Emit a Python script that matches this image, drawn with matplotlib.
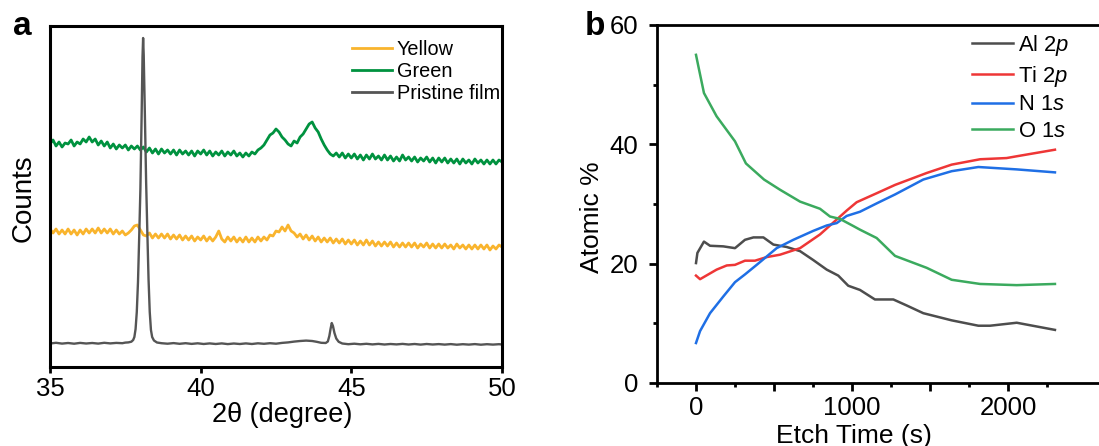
import matplotlib
matplotlib.use('Agg')
import matplotlib.pyplot as plt
from matplotlib.ticker import MultipleLocator, FixedLocator, FuncFormatter

plt.rcParams['font.family'] = ['Liberation Sans', 'DejaVu Sans']
plt.rcParams['mathtext.fontset'] = 'custom'
plt.rcParams['mathtext.rm'] = 'Liberation Sans'
plt.rcParams['mathtext.it'] = 'Liberation Sans:italic'

# ---------------- Panel a data (XRD, arbitrary counts) ----------------
two_theta_step = [round(35.0 + 0.1 * i, 1) for i in range(151)]

green_counts = [
    223, 227, 221, 225, 220, 224, 223, 227, 221, 225,
    223, 228, 225, 230, 225, 228, 222, 226, 221, 225,
    219, 223, 218, 222, 219, 222, 217, 221, 218, 221,
    217, 220, 215, 219, 214, 218, 213, 218, 214, 217,
    213, 217, 212, 217, 213, 216, 212, 216, 211, 216,
    213, 217, 212, 216, 211, 215, 212, 216, 211, 215,
    212, 216, 211, 214, 210, 214, 211, 215, 213, 217,
    219, 222, 227, 232, 234, 238, 235, 230, 227, 223,
    221, 226, 224, 230, 233, 238, 243, 245, 239, 235,
    228, 222, 217, 213, 211, 214, 210, 214, 209, 213,
    209, 213, 208, 212, 207, 212, 208, 213, 208, 211,
    207, 212, 207, 211, 206, 210, 206, 212, 207, 210,
    206, 210, 205, 209, 206, 210, 205, 209, 204, 209,
    205, 209, 204, 208, 204, 208, 203, 208, 204, 207,
    203, 208, 204, 207, 203, 207, 203, 207, 203, 207,
    205,
]

yellow_counts = [
    138, 134, 138, 133, 137, 133, 138, 133, 137, 132,
    137, 133, 138, 134, 138, 134, 139, 134, 138, 134,
    138, 133, 137, 133, 136, 132, 134, 137, 141, 142,
    137, 132, 131, 134, 129, 133, 129, 133, 129, 133,
    128, 132, 128, 132, 127, 131, 127, 131, 126, 130,
    127, 131, 126, 130, 126, 130, 136, 128, 125, 130,
    126, 130, 125, 129, 125, 130, 125, 129, 125, 130,
    126, 130, 127, 132, 131, 136, 135, 140, 136, 142,
    136, 134, 130, 133, 128, 132, 127, 131, 126, 130,
    125, 129, 125, 129, 124, 128, 124, 128, 123, 127,
    123, 127, 122, 126, 122, 127, 122, 126, 121, 125,
    121, 125, 121, 125, 120, 124, 120, 124, 120, 124,
    120, 124, 119, 123, 120, 124, 119, 123, 119, 123,
    119, 123, 119, 122, 118, 123, 119, 122, 118, 122,
    118, 122, 118, 122, 118, 122, 117, 121, 118, 122,
    120,
]

pristine_two_theta = [
    35.0, 35.2, 35.4, 35.6, 35.8, 36.0, 36.2, 36.4, 36.6, 36.8,
    37.0, 37.2, 37.4, 37.5, 37.6, 37.7, 37.76, 37.80, 37.84, 37.88,
    37.92, 37.96, 38.00, 38.04, 38.07, 38.09, 38.11, 38.15, 38.19, 38.23,
    38.27, 38.31, 38.35, 38.39, 38.45, 38.55, 38.7, 38.9, 39.1, 39.3,
    39.5, 39.7, 39.9, 40.1, 40.3, 40.5, 40.7, 40.9, 41.1, 41.3,
    41.5, 41.7, 41.9, 42.1, 42.3, 42.5, 42.7, 42.9, 43.1, 43.3,
    43.5, 43.7, 43.85, 44.0, 44.15, 44.22, 44.27, 44.31, 44.35, 44.39,
    44.44, 44.50, 44.58, 44.7, 44.9, 45.1, 45.3, 45.5, 45.7, 45.9,
    46.1, 46.3, 46.5, 46.7, 46.9, 47.1, 47.3, 47.5, 47.7, 47.9,
    48.1, 48.3, 48.5, 48.7, 48.9, 49.1, 49.3, 49.5, 49.7, 49.9,
    50.0,
]
pristine_counts = [
    23.5, 24.2, 23.4, 24.0, 23.3, 24.1, 23.5, 24.0, 23.4, 24.2,
    23.6, 24.1, 23.8, 24.4, 24.6, 25.3, 27.0, 30.0, 38.0, 55.0,
    85.0, 130.0, 178.0, 250.0, 310.0, 329.0, 312.0, 250.0, 185.0, 135.0,
    88.0, 55.0, 37.0, 30.0, 26.5, 24.5, 23.8, 23.3, 23.9, 23.2,
    23.8, 23.1, 23.7, 23.0, 23.6, 23.0, 23.6, 22.9, 23.5, 23.0,
    23.6, 23.0, 23.7, 23.2, 23.8, 23.3, 24.1, 24.6, 25.4, 26.0,
    26.4, 26.0, 25.2, 24.2, 24.0, 25.5, 31.0, 38.0, 44.0, 41.0,
    34.0, 28.5, 25.2, 23.5, 22.8, 23.3, 22.7, 23.2, 22.6, 23.1,
    22.5, 23.0, 22.6, 23.1, 22.5, 23.0, 22.4, 23.0, 22.5, 22.9,
    22.4, 22.9, 22.3, 22.8, 22.4, 22.9, 22.3, 22.8, 22.4, 22.8,
    22.5,
]

xrd_labels = ['Yellow', 'Green', 'Pristine film']
xrd_colors = ['#F9B42D', '#00923F', '#555555']
xrd_ticks = [35, 40, 45, 50]

# ---------------- Panel b data (XPS depth profile) ----------------
al_time = [0, 9, 51, 90, 175, 250, 314, 368, 432, 496, 581, 667, 752, 838, 912,
           976, 1051, 1147, 1265, 1350, 1457, 1639, 1810, 1885, 2056, 2301]
al_pct = [20.1, 21.8, 23.7, 23.0, 22.9, 22.6, 24.0, 24.4, 24.4, 23.2, 22.8, 22.1,
          20.6, 19.0, 18.0, 16.3, 15.6, 14.0, 14.0, 13.0, 11.7, 10.5, 9.6, 9.6,
          10.1, 8.9]

ti_time = [0, 26, 79, 132, 197, 250, 314, 378, 453, 538, 667, 795, 902, 966,
           1030, 1158, 1276, 1479, 1639, 1821, 1991, 2056, 2301]
ti_pct = [18.0, 17.4, 18.2, 19.0, 19.7, 19.8, 20.5, 20.5, 21.1, 21.5, 22.6, 24.9,
          27.4, 28.9, 30.3, 31.8, 33.2, 35.2, 36.6, 37.5, 37.7, 38.0, 39.1]

n_time = [0, 26, 90, 175, 250, 314, 389, 453, 517, 624, 752, 838, 902, 966,
          1051, 1158, 1276, 1457, 1639, 1810, 2056, 2301]
n_pct = [6.7, 8.7, 11.7, 14.5, 16.9, 18.2, 19.8, 21.2, 22.6, 24.0, 25.5, 26.4,
         26.8, 28.0, 28.7, 30.1, 31.6, 34.1, 35.5, 36.2, 35.8, 35.3]

o_time = [0, 15, 51, 132, 250, 320, 436, 538, 667, 795, 859, 923, 1009, 1051,
          1158, 1276, 1479, 1639, 1821, 2056, 2301]
o_pct = [55.0, 53.1, 48.6, 44.7, 40.5, 36.8, 34.1, 32.4, 30.4, 29.2, 27.9, 27.5,
         26.3, 25.7, 24.3, 21.3, 19.3, 17.3, 16.6, 16.4, 16.6]

xps_labels = ['Al 2$p$', 'Ti 2$p$', 'N 1$s$', 'O 1$s$']
xps_colors = ['#4D4D4D', '#EE3636', '#1F6FE5', '#3BAA5E']

# ---------------- Figure ----------------
W, H = 1099, 446
fig = plt.figure(figsize=(W / 100, H / 100), dpi=100)


def px_axes(l, t, r, b):
    return fig.add_axes([l / W, (H - b) / H, (r - l) / W, (b - t) / H])


axa = px_axes(50, 26, 502, 367)
axb = px_axes(657, 25, 1103, 383)

# Panel a
la1, = axa.plot(two_theta_step, yellow_counts, color=xrd_colors[0], lw=2.0)
la2, = axa.plot(two_theta_step, green_counts, color=xrd_colors[1], lw=2.0)
la3, = axa.plot(pristine_two_theta, pristine_counts, color=xrd_colors[2], lw=1.7)
axa.set_xlim(35, 50)
axa.set_ylim(0, 341)
axa.set_xticks(xrd_ticks)
axa.set_yticks([])
for s in axa.spines.values():
    s.set_linewidth(2.2)
axa.tick_params(axis='x', direction='out', length=4, width=2, labelsize=18.5, pad=3)
axa.set_xlabel('2θ (degree)', fontsize=19.5)
axa.xaxis.set_label_coords(0.514, -0.14)
axa.xaxis.label.set_va('center')
axa.set_ylabel('Counts', fontsize=20)
axa.yaxis.set_label_coords(-0.058, 0.495)
axa.yaxis.label.set_va('center')
leg_a = axa.legend([la1, la2, la3], xrd_labels, loc='upper left', bbox_to_anchor=(0.668, 0.96),
                   frameon=False, fontsize=14.3, handlelength=2.0, handletextpad=0.25,
                   labelspacing=0.15, borderpad=0, borderaxespad=0)
for ln in leg_a.get_lines():
    ln.set_linewidth(2.0)

# Panel b
hb = []
for t, v, c in zip([al_time, ti_time, n_time, o_time], [al_pct, ti_pct, n_pct, o_pct], xps_colors):
    l, = axb.plot(t, v, color=c, lw=1.8)
    hb.append(l)
axb.set_xlim(-250, 2609)
axb.set_ylim(0, 60)
axb.xaxis.set_major_locator(FixedLocator([0, 500, 1000, 1500, 2000]))
axb.xaxis.set_minor_locator(FixedLocator([-250, 250, 750, 1250, 1750, 2250]))
axb.xaxis.set_major_formatter(FuncFormatter(lambda v, p: f'{int(v)}' if int(round(v)) % 1000 == 0 else ''))
axb.yaxis.set_major_locator(MultipleLocator(20))
axb.yaxis.set_minor_locator(MultipleLocator(10))
axb.spines['right'].set_visible(False)
for k in ['left', 'bottom', 'top']:
    axb.spines[k].set_linewidth(2.0)
axb.tick_params(which='major', direction='out', length=5.5, width=2, labelsize=18.5)
axb.tick_params(which='minor', direction='out', length=3, width=2)
axb.tick_params(axis='x', which='major', pad=4)
axb.tick_params(axis='y', which='major', pad=8)
axb.set_xlabel('Etch Time (s)', fontsize=19)
axb.xaxis.set_label_coords(0.442, -0.148)
axb.xaxis.label.set_va('center')
axb.set_ylabel('Atomic %', fontsize=19)
axb.yaxis.set_label_coords(-0.146, 0.4645)
axb.yaxis.label.set_va('center')
axb.legend(hb, xps_labels, loc='upper left', bbox_to_anchor=(0.7056, 0.978),
           frameon=False, fontsize=15.8, handlelength=1.9, handletextpad=0.2,
           labelspacing=0.26, borderpad=0, borderaxespad=0)

fig.text(13 / W, 1 - 35 / H, 'a', fontsize=24, fontweight='bold', va='baseline', ha='left')
fig.text(585 / W, 1 - 35 / H, 'b', fontsize=24, fontweight='bold', va='baseline', ha='left')

fig.savefig('out.png', dpi=100)
